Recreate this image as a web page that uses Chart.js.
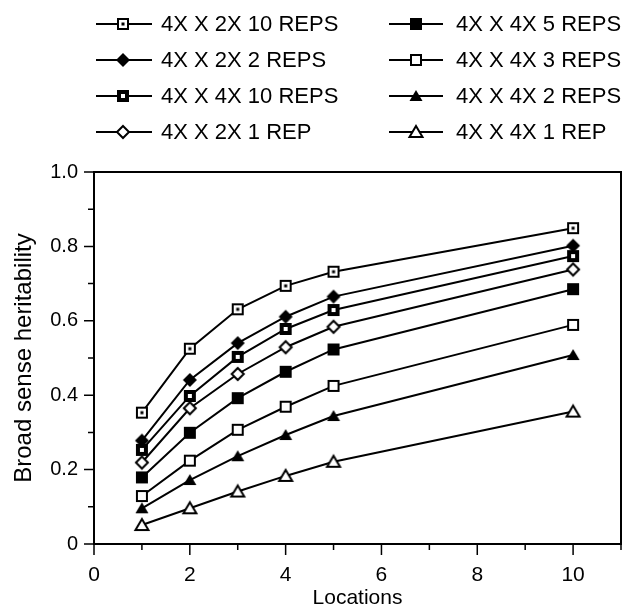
<!DOCTYPE html>
<html lang="en">
<head>
  <meta charset="UTF-8">
  <title>Broad sense heritability by number of locations</title>
  <script src="https://cdn.jsdelivr.net/npm/chart.js"></script>
  <style>
    html, body {
      margin: 0;
      padding: 0;
      background-color: #FFFFFF;
    }
  </style>
</head>
<body>
  <canvas id="h2Chart" width="622" height="611"></canvas>

  <script>
    // Number of locations (x) and heritability for each design (y)
    const locations = [1, 2, 3, 4, 5, 10];
    const h2_2x_10reps = [0.353, 0.525, 0.631, 0.694, 0.732, 0.849];
    const h2_2x_2reps  = [0.278, 0.441, 0.540, 0.611, 0.665, 0.802];
    const h2_4x_10reps = [0.253, 0.398, 0.503, 0.578, 0.629, 0.774];
    const h2_2x_1rep   = [0.219, 0.365, 0.457, 0.529, 0.584, 0.738];
    const h2_4x_5reps  = [0.179, 0.299, 0.392, 0.463, 0.523, 0.685];
    const h2_4x_3reps  = [0.129, 0.224, 0.307, 0.369, 0.425, 0.589];
    const h2_4x_2reps  = [0.096, 0.172, 0.236, 0.293, 0.344, 0.508];
    const h2_4x_1rep   = [0.051, 0.096, 0.141, 0.183, 0.221, 0.356];

    const seriesLabels = [
      "4X X 2X 10 REPS", "4X X 2X 2 REPS", "4X X 4X 10 REPS", "4X X 2X 1 REP",
      "4X X 4X 5 REPS", "4X X 4X 3 REPS", "4X X 4X 2 REPS", "4X X 4X 1 REP"
    ];
    const seriesValues = [
      h2_2x_10reps, h2_2x_2reps, h2_4x_10reps, h2_2x_1rep,
      h2_4x_5reps, h2_4x_3reps, h2_4x_2reps, h2_4x_1rep
    ];
    const markerKinds = [
      "sqDot", "diamondFill", "sqThick", "diamondOpen",
      "sqFill", "sqOpen", "triFill", "triOpen"
    ];

    const FONT = "'Liberation Sans', Arial, sans-serif";

    // small canvases used as point styles (and in the legend)
    function makeMarker(kind) {
      const s = 18, m = s / 2;
      const c = document.createElement("canvas");
      c.width = s; c.height = s;
      const g = c.getContext("2d");
      g.strokeStyle = "#000";
      g.fillStyle = "#000";
      g.lineWidth = 2;
      if (kind === "sqDot" || kind === "sqOpen") {
        g.fillStyle = "#fff";
        g.fillRect(m - 5, m - 5, 10, 10);
        g.strokeRect(m - 5, m - 5, 10, 10);
        if (kind === "sqDot") {
          g.fillStyle = "#000";
          g.fillRect(m - 1.5, m - 1.5, 3, 3);
        }
      } else if (kind === "sqFill") {
        g.fillRect(m - 6, m - 6, 12, 12);
      } else if (kind === "sqThick") {
        g.fillRect(m - 6, m - 6, 12, 12);
        g.fillStyle = "#fff";
        g.fillRect(m - 2, m - 2, 4, 4);
      } else if (kind === "diamondFill" || kind === "diamondOpen") {
        const r = kind === "diamondFill" ? 7 : 6;
        g.beginPath();
        g.moveTo(m, m - r); g.lineTo(m + r, m); g.lineTo(m, m + r); g.lineTo(m - r, m);
        g.closePath();
        if (kind === "diamondOpen") { g.fillStyle = "#fff"; g.fill(); g.stroke(); }
        else g.fill();
      } else if (kind === "triFill" || kind === "triOpen") {
        g.beginPath();
        g.moveTo(m, m - 6); g.lineTo(m + 6.5, m + 5); g.lineTo(m - 6.5, m + 5);
        g.closePath();
        if (kind === "triOpen") { g.fillStyle = "#fff"; g.fill(); g.stroke(); }
        else g.fill();
      }
      return c;
    }

    const markers = markerKinds.map(makeMarker);

    const datasets = seriesLabels.map((label, i) => ({
      label: label,
      data: locations.map((loc, j) => ({ x: loc, y: seriesValues[i][j] })),
      borderColor: "#000",
      borderWidth: 2,
      pointStyle: markers[i],
      pointRadius: 6,
      tension: 0,
      fill: false
    }));

    // frame, tick marks and the two-column legend
    const framePlugin = {
      id: "framePlugin",
      beforeDatasetsDraw(chart) {
        const { ctx, chartArea: a, scales: { x, y } } = chart;
        ctx.save();
        ctx.strokeStyle = "#000";
        ctx.lineWidth = 2;
        ctx.strokeRect(a.left, a.top, a.right - a.left, a.bottom - a.top);
        ctx.lineWidth = 1.5;
        ctx.beginPath();
        for (let i = 0; i <= 11; i++) {
          const px = x.getPixelForValue(i);
          const len = i % 2 ? 6 : 11;
          ctx.moveTo(px, a.bottom);
          ctx.lineTo(px, a.bottom + len);
        }
        for (let j = 0; j <= 10; j++) {
          const py = y.getPixelForValue(j / 10);
          const len = j % 2 ? 6 : 10;
          ctx.moveTo(a.left - len, py);
          ctx.lineTo(a.left, py);
        }
        ctx.stroke();
        ctx.restore();
      },
      afterDraw(chart) {
        const ctx = chart.ctx;
        const rows = [24, 60, 96, 132];
        const cols = [
          { x0: 96, x1: 152, mx: 123, tx: 161 },
          { x0: 389, x1: 443, mx: 416, tx: 456 }
        ];
        ctx.save();
        ctx.font = "22px " + FONT;
        ctx.fillStyle = "#000";
        ctx.strokeStyle = "#000";
        ctx.lineWidth = 2;
        ctx.textBaseline = "middle";
        seriesLabels.forEach((label, i) => {
          const col = cols[Math.floor(i / 4)];
          const yy = rows[i % 4];
          ctx.beginPath();
          ctx.moveTo(col.x0, yy);
          ctx.lineTo(col.x1, yy);
          ctx.stroke();
          const mk = markers[i];
          ctx.drawImage(mk, col.mx - mk.width / 2, yy - mk.height / 2);
          ctx.fillText(label, col.tx, yy + 1);
        });
        ctx.restore();
      }
    };

    const ctx = document.getElementById("h2Chart").getContext("2d");
    new Chart(ctx, {
      type: "line",
      data: { datasets: datasets },
      plugins: [framePlugin],
      options: {
        responsive: false,
        animation: false,
        devicePixelRatio: 1,
        layout: {
          autoPadding: false,
          padding: { top: 172, right: 1, left: 0, bottom: 0 }
        },
        plugins: {
          legend: { display: false },
          tooltip: { enabled: false }
        },
        events: [],
        scales: {
          x: {
            type: "linear",
            min: 0,
            max: 11,
            grid: { display: false, drawTicks: false },
            border: { display: false },
            ticks: {
              stepSize: 1,
              autoSkip: false,
              maxRotation: 0,
              padding: 19,
              color: "#000",
              font: { family: FONT, size: 21 },
              callback: (v) => (v % 2 === 0 ? v : "")
            },
            title: {
              display: true,
              text: "Locations",
              color: "#000",
              padding: 0,
              font: { family: FONT, size: 21 }
            },
            afterFit: (s) => {
              s.height = 67;
              s.paddingLeft = 0;
              s.paddingRight = 0;
            }
          },
          y: {
            min: 0,
            max: 1,
            grid: { display: false, drawTicks: false },
            border: { display: false },
            ticks: {
              stepSize: 0.1,
              autoSkip: false,
              padding: 16,
              color: "#000",
              font: { family: FONT, size: 20 },
              callback: (v) => {
                const k = Math.round(v * 10);
                if (k % 2) return "";
                return k === 0 ? "0" : (k / 10).toFixed(1);
              }
            },
            title: {
              display: true,
              text: "Broad sense heritability",
              color: "#000",
              padding: { top: 10, bottom: 0 },
              font: { family: FONT, size: 24 }
            },
            afterFit: (s) => {
              s.width = 94;
              s.paddingTop = 0;
              s.paddingBottom = 0;
            }
          }
        }
      }
    });
  </script>
</body>
</html>
